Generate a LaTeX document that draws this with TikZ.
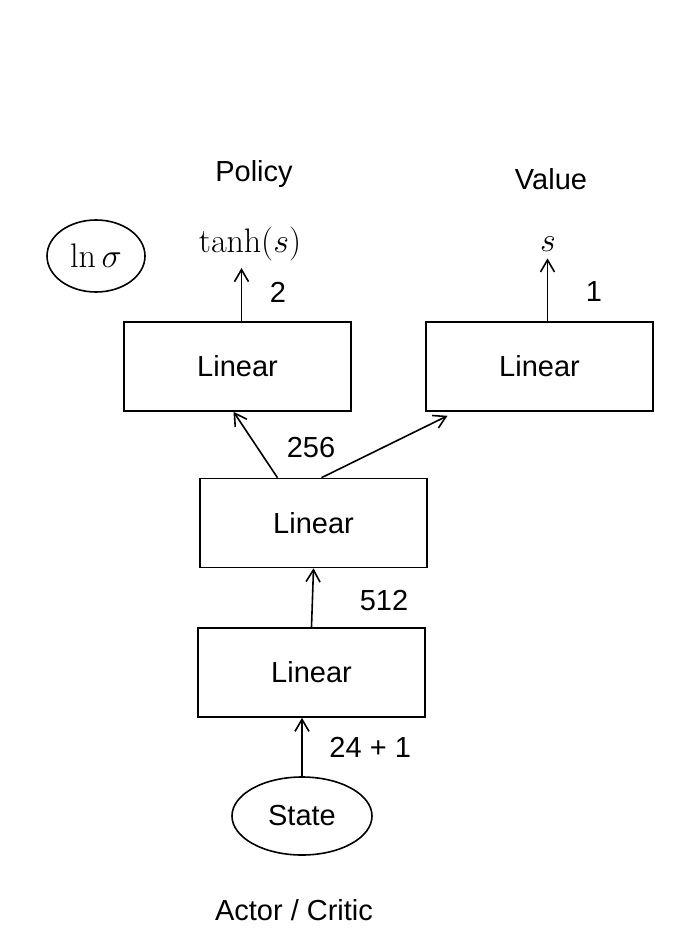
\RequirePackage{fix-cm}
\documentclass[tikz,border=0pt]{standalone}
\usepackage{amsmath,amssymb}
\usepackage[no-math]{fontspec}
\setmainfont{Liberation Sans}
\usetikzlibrary{arrows.meta, positioning, shapes.geometric}

\begin{document}
\begin{tikzpicture}[x=0.5pt, y=-0.5pt,
      block/.style={rectangle, draw, line width=0.8pt, minimum height=44.5pt,
                    minimum width=113.5pt, align=center, font=\fontsize{14.5}{17}\selectfont},
      oval/.style={ellipse, draw, line width=0.8pt, font=\fontsize{14.5}{17}\selectfont},
      lbl/.style={font=\fontsize{14.5}{17}\selectfont},
      arr/.style={-{Straight Barb[length=6pt, width=7pt]}, line width=0.8pt}
    ]
    \useasboundingbox (0,0) rectangle (688,942);

    \node[block] (pol) at (237.5,366.5) {Linear};
    \node[block] (val) at (539.5,366.5) {Linear};
    \node[block] (mid) at (313.5,523) {Linear};
    \node[block] (inp) at (311.5,672.5) {Linear};
    \node[oval, minimum width=70pt, minimum height=39pt] (state) at (302,816) {State};
    \node[oval, minimum width=49pt, minimum height=36pt, font=\fontsize{17}{20}\selectfont] (lnsig) at (96,256) {$\ln\sigma$};

    \node[lbl, font=\fontsize{17}{20}\selectfont] (tanh) at (250,244) {$\tanh(s)$};
    \node[lbl, font=\fontsize{17}{20}\selectfont] (sout) at (548,244) {$s$};
    \node[lbl] at (254,174) {Policy};
    \node[lbl] at (551,179) {Value};
    \node[lbl] at (294,910) {Actor / Critic};

    \draw[arr] (state.north) -- (state.north |- inp.south) node[pos=0.5, right=10pt, lbl] {24 + 1};
    \draw[arr] (inp.north) -- (mid.south);
    \draw[arr] ([xshift=-18pt]mid.north) -- ([xshift=-2pt]pol.south);
    \draw[arr] ([xshift=4pt]mid.north) -- ([xshift=-46pt, yshift=-2pt]val.south);
    \draw[arr] ([xshift=2pt]pol.north) -- ([xshift=2pt]pol.north |- tanh.south);
    \draw[arr] ([xshift=4pt]val.north) -- ([xshift=4pt]val.north |- sout.south);

    \node[lbl] at (384,601) {512};
    \node[lbl] at (311,448) {256};
    \node[lbl] at (278,292) {2};
    \node[lbl] at (594,292) {1};
  \end{tikzpicture}
\end{document}
